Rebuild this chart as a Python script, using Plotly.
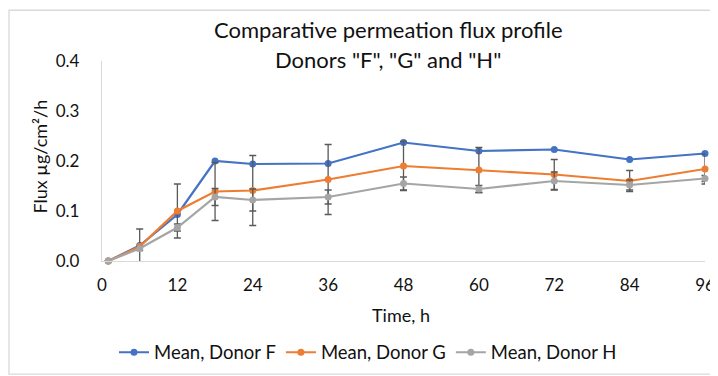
import plotly.graph_objects as go

time_h = [1, 6, 12, 18, 24, 36, 48, 60, 72, 84, 96]
donor_f = [0.0, 0.031, 0.093, 0.200, 0.194, 0.195, 0.237, 0.220, 0.223, 0.203, 0.215]
donor_g = [0.0, 0.029, 0.100, 0.139, 0.141, 0.163, 0.190, 0.182, 0.173, 0.160, 0.184]
donor_h = [0.0, 0.025, 0.067, 0.128, 0.122, 0.128, 0.155, 0.144, 0.160, 0.152, 0.165]
err_g = [0.0, 0.035, 0.054, 0.058, 0.070, 0.070, 0.049, 0.045, 0.030, 0.021, 0.030]
err_h = [0.0, 0.004, 0.007, 0.017, 0.022, 0.014, 0.013, 0.007, 0.018, 0.010, 0.006]
x_ticks = [0, 12, 24, 36, 48, 60, 72, 84, 96]
y_ticks = [0.0, 0.1, 0.2, 0.3, 0.4]
y_tick_text = ["0.0", "0.1", "0.2", "0.3", "0.4"]

FONT = "Lato"
W, H = 718, 376
L, R, T, B = 94, 21, 53, 118
pw, ph = W - L - R, H - T - B

def px_x(p):
    return (p - L) / pw

def px_y(p):
    return (H - B - p) / ph

ebar = dict(type="data", thickness=1.3, width=3.5, color="#595959")

fig = go.Figure()
fig.add_trace(go.Scatter(x=time_h, y=donor_f, name="Mean, Donor F", mode="lines+markers",
                         line=dict(color="#4472C4", width=2.2), marker=dict(size=7, color="#4472C4"),
                         cliponaxis=False))
fig.add_trace(go.Scatter(x=time_h, y=donor_g, name="Mean, Donor G", mode="lines+markers",
                         line=dict(color="#ED7D31", width=2.2), marker=dict(size=7, color="#ED7D31"),
                         error_y=dict(array=err_g, **ebar), cliponaxis=False))
fig.add_trace(go.Scatter(x=time_h, y=donor_h, name="Mean, Donor H", mode="lines+markers",
                         line=dict(color="#A5A5A5", width=2.2), marker=dict(size=7, color="#A5A5A5"),
                         error_y=dict(array=err_h, **ebar), cliponaxis=False))

fig.update_layout(
    width=W, height=H,
    margin=dict(l=L, r=R, t=T, b=B),
    paper_bgcolor="white", plot_bgcolor="white",
    font=dict(family=FONT, size=17, color="#111111"),
    showlegend=True,
    legend=dict(orientation="h", x=px_x(360), xanchor="center", y=px_y(352), yanchor="middle",
                font=dict(size=18.5), itemwidth=30, traceorder="normal"),
    xaxis=dict(range=[0, 96], tickvals=x_ticks, showgrid=False, zeroline=False,
               showline=True, linecolor="#D9D9D9", linewidth=1.3, ticks="",
               ticklabelstandoff=8),
    yaxis=dict(range=[0, 0.4], tickvals=y_ticks, ticktext=y_tick_text, showgrid=False,
               zeroline=False, showline=True, linecolor="#D9D9D9", linewidth=1.3, ticks="",
               ticklabelstandoff=18),
    annotations=[
        dict(text="Comparative permeation flux profile", xref="paper", yref="paper",
             x=px_x(380), y=px_y(21), xanchor="center", yanchor="middle", showarrow=False,
             font=dict(size=22, family=FONT, color="#111111")),
        dict(text='Donors "F", "G" and "H"', xref="paper", yref="paper",
             x=px_x(380), y=px_y(51), xanchor="center", yanchor="middle", showarrow=False,
             font=dict(size=22, family=FONT, color="#111111")),
        dict(text="Time, h", xref="paper", yref="paper",
             x=px_x(393), y=px_y(313), xanchor="center", yanchor="middle", showarrow=False,
             font=dict(size=18, family=FONT, color="#111111")),
        dict(text="Flux µg/cm²/h", xref="paper", yref="paper", textangle=-90,
             x=px_x(32), y=px_y(151), xanchor="center", yanchor="middle", showarrow=False,
             font=dict(size=18, family=FONT, color="#111111")),
    ],
    shapes=[dict(type="rect", xref="paper", yref="paper",
                 x0=px_x(1), x1=px_x(716), y0=px_y(374), y1=px_y(1),
                 line=dict(color="#D9D9D9", width=1.3), fillcolor="rgba(0,0,0,0)", layer="below")],
)

fig.write_html("out.html")
